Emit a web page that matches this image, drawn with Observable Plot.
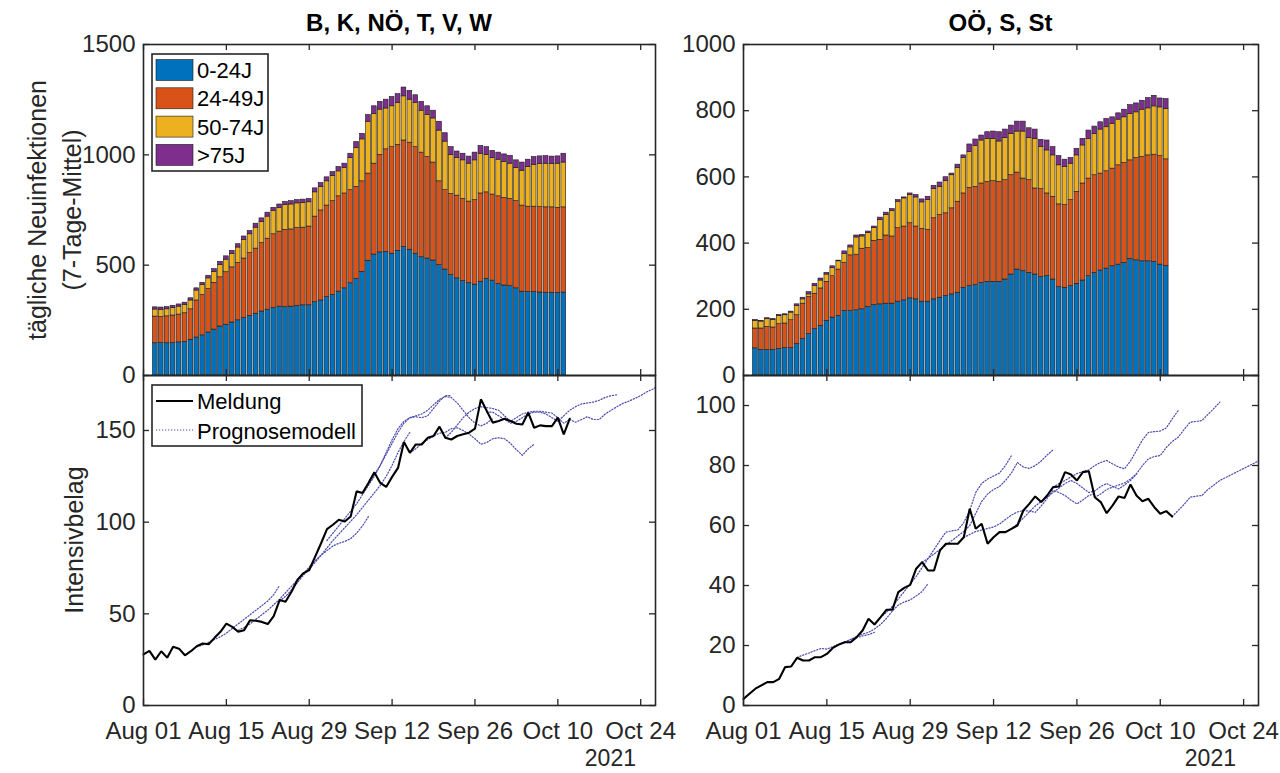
<!DOCTYPE html>
<html>
<head>
<meta charset="utf-8">
<script src="https://cdn.jsdelivr.net/npm/d3@7"></script>
<script src="https://cdn.jsdelivr.net/npm/@observablehq/plot@0.6"></script>
<style>
  body { margin: 0; background: #fff; }
  #fig { position: relative; width: 1280px; height: 773px; overflow: hidden; background: #fff; }
  #fig svg { position: absolute; left: 0; top: 0; }
</style>
</head>
<body>
<div id="fig"></div>
<script>
// ---------------- DATA ----------------
const regionTitles = ["B, K, NÖ, T, V, W", "OÖ, S, St"];
const ageGroups = ["0-24J", "24-49J", "50-74J", ">75J"];
const ageColors = ["#0072BD", "#D95319", "#EDB120", "#7E2F8E"];
const yLabelTop = ["tägliche Neuinfektionen", "(7-Tage-Mittel)"];
const yLabelBottom = "Intensivbelag";
const lineNames = ["Meldung", "Prognosemodell"];
const yearLabel = "2021";

const xTickDates = ["2021-08-01", "2021-08-15", "2021-08-29", "2021-09-12", "2021-09-26", "2021-10-10", "2021-10-24"];
const xTickLabels = ["Aug 01", "Aug 15", "Aug 29", "Sep 12", "Sep 26", "Oct 10", "Oct 24"];
const xStart = "2021-08-01";
const xEnd = "2021-10-26T12:00";
const barStart = "2021-08-03";   // first bar (one bar per day)
const lineStart = "2021-08-01";  // first Meldung point (one point per day)

// Upper edges of the stacked bands (cumulative level)
// Left region: B, K, NÖ, T, V, W
const L_top_0_24 = [146,147,146,147,150,152,162,172,182,195, 208,222,230,240,250,260,270,280,290,298, 306,312,310,312,315,318,318,332,340,355, 365,380,395,418,438,470,520,548,558,560, 552,565,582,570,552,536,530,521,500,480, 455,440,428,418,412,425,438,430,415,408, 405,395,380,378,378,376,375,375,374,376];
const L_top_24_49 = [267,265,268,272,276,282,300,340,365,392, 420,445,468,490,510,530,555,575,600,620, 640,652,660,662,668,670,675,720,748,770, 790,812,825,840,855,880,915,960,1000,1025, 1035,1045,1065,1055,1035,1010,990,965,880,840, 822,815,800,788,795,825,830,820,812,805, 800,790,770,765,765,763,762,762,760,762];
const L_top_50_74 = [299,298,300,305,312,320,340,385,410,440, 470,500,525,550,580,615,640,670,695,720, 745,760,772,775,780,782,785,830,855,880, 905,925,940,985,1030,1070,1150,1185,1205,1210, 1220,1235,1265,1250,1235,1200,1180,1165,1110,1060, 1000,985,975,960,975,1005,1000,985,978,968, 960,940,928,945,955,958,960,958,960,965];
const L_top_75 = [309,308,310,316,322,330,350,395,420,452, 482,515,540,565,595,630,655,688,712,738, 760,775,786,790,795,797,800,848,872,898, 922,945,960,1005,1058,1095,1180,1220,1240,1250, 1262,1275,1305,1290,1270,1240,1220,1200,1150,1098, 1035,1015,1005,992,1010,1040,1035,1018,1010,1002, 995,975,965,978,990,993,994,992,993,1005];

// Right region: OÖ, S, St
const R_top_0_24 = [82,77,77,77,80,83,83,95,110,125, 140,150,165,175,180,195,195,197,200,207, 213,215,217,217,223,227,233,230,223,223, 230,235,240,245,250,265,270,273,280,283, 283,283,290,305,320,315,310,305,297,300, 290,267,265,270,277,287,300,310,317,323, 330,335,340,352,348,345,345,343,335,331];
const R_top_24_49 = [142,142,147,145,155,157,167,182,217,237, 247,263,283,300,320,340,363,365,383,385, 407,410,423,420,445,450,460,450,443,440, 475,485,490,505,525,550,567,570,580,585, 587,585,590,605,613,595,590,565,563,550, 540,517,515,530,555,580,595,605,610,617, 625,635,642,650,657,660,665,667,663,653];
const R_top_50_74 = [165,163,170,168,180,182,190,210,230,245, 270,287,305,325,345,367,387,417,420,430, 445,470,485,497,525,535,545,538,523,530, 563,570,587,605,627,657,675,693,710,715, 715,707,717,730,737,737,717,715,690,680, 665,635,630,640,665,695,715,730,743,750, 760,773,780,790,795,803,807,813,810,805];
const R_top_75 = [168,165,173,171,183,185,193,215,235,252, 277,293,310,330,347,375,393,423,425,435, 450,477,492,503,530,538,550,545,532,540, 573,583,599,610,637,665,698,713,725,735, 737,735,743,755,767,767,747,743,712,710, 690,663,652,657,685,715,740,752,765,775, 780,792,803,817,822,830,838,845,837,835];

// Intensivbelag, Meldung (daily from Aug 01)
const L_meldung = [27.9,29.8,25,29.6,26.1,32,31,27.4,29.6,32.3, 33.8,33.4,36.9,40.2,44.7,42.9,40.2,41.1,46.5,46.2, 45.6,44.4,48.7,57.5,56.6,62,68.5,72.1,73.9,81.2, 88.5,96.2,98.6,101.3,100.4,103.1,116.8,115.9,121.4,127.2, 121.4,119.2,124.7,129.6,143.7,137.8,142.4,142.4,146,147, 152.1,146,145.1,147,147.9,148.8,151,167,160.6,154.3, 155.2,156.4,155.2,153.7,153.3,159.7,151.5,152.8,152.4,152.4, 157,147.9,156.4];
const R_meldung = [2.2,3.9,5.6,6.7,7.8,7.8,8.9,12.8,13,15.9, 15,15,16.1,16.1,17.2,19.2,20.3,21.1,21.1,22.8, 25,28.9,27,29.4,31.9,31.9,37.8,39.2,40.2,45.6, 47.8,45,45,51.7,53.9,53.9,53.9,56.1,65.6,58.9, 60.6,53.9,56.1,57.8,57.8,58.9,60,65,67.2,69.7, 67.8,70,72.8,73,77.8,77,75,77.8,78.1,69.4, 67.8,64.1,66.7,69.7,69.2,73.7,70,68.1,68.9,66.1, 63.9,64.8,63];

// Prognosemodell runs (start date, daily values)
const L_prog_starts = ["2021-08-10", "2021-08-17", "2021-08-24", "2021-09-01", "2021-09-08", "2021-09-15", "2021-09-21", "2021-09-28", "2021-10-12"];
const L_prog_values = [
  [32,33,34.5,36,37.5,39.5,42,44.5,47,49.5,52,54.5,57,60.5,65.5],
  [41,42.5,44.5,47,49.5,52,55,58,61.5,65,68.5,72,75.5,79,82,84.5,87,88.5,89.5,91,94,98,103],
  [57,59.5,63,67,71,74.5,78,82,86,90,93.5,97,100.5,104,108,112,116,120,125,131,138,144,149],
  [90,94,98,102,106,110,115,120,125,131,138,145,151,155,157,157.5,157,158,162,166,169,169],
  [121,126,131,137,143,149,154,157,158,159,161,164,167,168.5,168,165,161,157,154,152.5,154,156.5],
  [138,140,143,145,147,148.5,149,151,151.5,150,148,145.5,142.5,143.5,145.5,146,145.5,143,139.5,136.5,140,142.5],
  [146,149,153,157,160,162,163,162.5,162,161,158,155,157,159,160,160.5,160.5,160,159.5,157,154,156],
  [160,160,158,156,154,155,157,159,160,160,159,157,155,158,161,163,164.5,165,165.5,166.5,168,169,169.5],
  [156,154.5,156,157.5,156,156,159,161,163,164.8,166,167.5,169,171,172.5,174.5,176.5]
];
const R_prog_starts = ["2021-08-10", "2021-08-17", "2021-08-24", "2021-08-31", "2021-09-07", "2021-09-14", "2021-09-22", "2021-09-29", "2021-10-12"];
const R_prog_values = [
  [16,16.8,17.5,18.3,19,18.8,19.6,20.5,21.2,22,22.6,23.2,23.6,24.4],
  [20.3,21,22,23,23.8,24.4,25.5,27,29,31.5,33.5,34.5,35.2,36.5,38,40.6],
  [29.4,31,33,35.5,38,40.5,43,46,49,52,55,57.8,58.2,58.5,61,65,71,74,75.5,76.5,77.5,80,83.3],
  [47.8,49,50.5,52,53.5,55,56.5,58,60,64,68,70.5,72,73,75,77.5,81,79.5,79,80,81.5,83.5,85.2],
  [56,57,58,58.5,59,59.5,60.5,62,63.5,64.5,65,64.8,64.4,66.5,69,71.7,71,70,68.5,67.2,68.5,70,70.6],
  [57.8,59,60.5,62.5,64.5,66.5,68,69.5,71,72.5,74,75,74,72.5,71,71.5,73,74,73,72.2,73.5,75,77.2],
  [72.8,74,75,76.2,77.3,78,78.5,80,81,81.7,80.5,79.5,78.9,81.5,85,88.5,91,91.3,91.5,92.5,95.5,98.3],
  [69.4,70.5,72,72.8,73.5,74.2,75.5,77.2,80,82.2,83,83.3,86,88,89.4,92,94.4,94.7,95,97,99,101.1],
  [63,65,67,69.4,69.8,70,72,73.5,75,76,77,78,79,80,81,82.2,83.5]
];

const yTicksTopL = [0, 500, 1000, 1500];
const yTicksTopR = [0, 200, 400, 600, 800, 1000];
const yTicksBotL = [0, 50, 100, 150];
const yTicksBotR = [0, 20, 40, 60, 80, 100];

// ---------------- DRAWING ----------------
const FONT = '"Liberation Sans", Arial, Helvetica, sans-serif';
const AXIS = "#262626";
const PROG = "#4a4aae";
const DAY = 864e5;
const xTicks = xTickDates.map(s => new Date(s + "T00:00Z"));
const xDomain = [new Date(xStart + "T00:00Z"), new Date(xEnd + "Z")];
const dayAfter = (start, i) => new Date(Date.parse(start + "T00:00Z") + i * DAY);
const fmtX = d => xTickLabels[xTicks.findIndex(t => +t === +d)];

function panel(g, dataMarks) {
  const W = g.right - g.left, H = g.bottom - g.top;
  const tickStyle = {stroke: AXIS, strokeWidth: 1.3};
  const marks = [
    ...dataMarks,
    Plot.frame({stroke: AXIS, strokeWidth: 1.6}),
    Plot.tickX(xTicks, {x: d => d, insetTop: H - 6, ...tickStyle}),
    Plot.tickX(xTicks, {x: d => d, insetBottom: H - 6, ...tickStyle}),
    Plot.tickY(g.yTicks, {y: d => d, insetRight: W - 6, ...tickStyle}),
    Plot.tickY(g.yTicks, {y: d => d, insetLeft: W - 6, ...tickStyle}),
    Plot.axisY(g.yTicks, {tickSize: 0, tickPadding: 8, label: null, fontSize: 24, tickFormat: d => String(d)})
  ];
  if (g.xAxis) marks.push(Plot.axisX(xTicks, {tickSize: 0, tickPadding: 16, label: null, fontSize: 24, tickFormat: fmtX}));
  return Plot.plot({
    width: 1280, height: 773,
    marginLeft: g.left, marginRight: 1280 - g.right, marginTop: g.top, marginBottom: 773 - g.bottom,
    x: {type: "utc", domain: xDomain, axis: g.xAxis ? undefined : null},
    y: {domain: g.yDomain},
    style: {background: "transparent", overflow: "visible", fontFamily: FONT, fontSize: "24px", color: AXIS},
    marks
  });
}

function barMarks(levels) {
  const idx = d3.range(levels[0].length);
  return levels.map((upper, k) => Plot.rect(idx, {
    x1: i => dayAfter(barStart, i - 0.4),
    x2: i => dayAfter(barStart, i + 0.4),
    y1: i => (k === 0 ? 0 : levels[k - 1][i]),
    y2: i => upper[i],
    fill: ageColors[k],
    stroke: "#1a1a1a",
    strokeWidth: 0.6
  }));
}

function lineMarks(meldung, starts, runs) {
  const marks = runs.map((vals, j) => Plot.line(vals, {
    x: (d, i) => dayAfter(starts[j], i),
    y: d => d,
    stroke: PROG,
    strokeWidth: 1.2,
    strokeDasharray: "1.2,1.8",
    clip: true
  }));
  marks.push(Plot.line(meldung, {
    x: (d, i) => dayAfter(lineStart, i),
    y: d => d,
    stroke: "#000",
    strokeWidth: 2.1,
    strokeLinejoin: "miter"
  }));
  return marks;
}

const fig = document.getElementById("fig");
const geo = {
  TL: {left: 143, right: 655, top: 44, bottom: 375, yDomain: [0, 1500], yTicks: yTicksTopL, xAxis: false},
  TR: {left: 743, right: 1258, top: 44, bottom: 375, yDomain: [0, 1000], yTicks: yTicksTopR, xAxis: false},
  BL: {left: 143, right: 655, top: 375, bottom: 705, yDomain: [0, 180], yTicks: yTicksBotL, xAxis: true},
  BR: {left: 743, right: 1258, top: 375, bottom: 705, yDomain: [0, 110], yTicks: yTicksBotR, xAxis: true}
};
fig.append(panel(geo.TL, barMarks([L_top_0_24, L_top_24_49, L_top_50_74, L_top_75])));
fig.append(panel(geo.TR, barMarks([R_top_0_24, R_top_24_49, R_top_50_74, R_top_75])));
fig.append(panel(geo.BL, lineMarks(L_meldung, L_prog_starts, L_prog_values)));
fig.append(panel(geo.BR, lineMarks(R_meldung, R_prog_starts, R_prog_values)));

// ------------- titles, axis labels, legends (overlay) -------------
const ov = d3.select(fig).append("svg").attr("width", 1280).attr("height", 773)
  .style("font-family", FONT);

ov.append("text").attr("x", 399).attr("y", 31).attr("text-anchor", "middle")
  .attr("font-size", 24).attr("font-weight", "bold").text(regionTitles[0]);
ov.append("text").attr("x", 1000.5).attr("y", 31).attr("text-anchor", "middle")
  .attr("font-size", 24).attr("font-weight", "bold").text(regionTitles[1]);

ov.append("text").attr("transform", "translate(46,210) rotate(-90)").attr("text-anchor", "middle")
  .attr("font-size", 25).attr("fill", AXIS).text(yLabelTop[0]);
ov.append("text").attr("transform", "translate(81,210) rotate(-90)").attr("text-anchor", "middle")
  .attr("font-size", 25).attr("fill", AXIS).text(yLabelTop[1]);
ov.append("text").attr("transform", "translate(83,540) rotate(-90)").attr("text-anchor", "middle")
  .attr("font-size", 25).attr("fill", AXIS).text(yLabelBottom);

ov.append("text").attr("x", 636).attr("y", 766).attr("text-anchor", "end")
  .attr("font-size", 23).attr("fill", AXIS).text(yearLabel);
ov.append("text").attr("x", 1236).attr("y", 766).attr("text-anchor", "end")
  .attr("font-size", 23).attr("fill", AXIS).text(yearLabel);

// bar legend
ov.append("rect").attr("x", 152).attr("y", 54).attr("width", 116).attr("height", 117)
  .attr("fill", "#fff").attr("stroke", AXIS).attr("stroke-width", 1.6);
ageGroups.forEach((g, k) => {
  const y = 59.5 + k * 28.3;
  ov.append("rect").attr("x", 156).attr("y", y).attr("width", 37).attr("height", 21)
    .attr("fill", ageColors[k]).attr("stroke", "#1a1a1a").attr("stroke-width", 0.6);
  ov.append("text").attr("x", 197).attr("y", y + 18.5).attr("font-size", 22).attr("fill", "#000").text(g);
});

// line legend
ov.append("rect").attr("x", 152).attr("y", 385).attr("width", 210).attr("height", 61)
  .attr("fill", "#fff").attr("stroke", AXIS).attr("stroke-width", 1.6);
ov.append("line").attr("x1", 156).attr("x2", 193).attr("y1", 401).attr("y2", 401)
  .attr("stroke", "#000").attr("stroke-width", 2);
ov.append("line").attr("x1", 156).attr("x2", 193).attr("y1", 430).attr("y2", 430)
  .attr("stroke", PROG).attr("stroke-width", 1.2).attr("stroke-dasharray", "1.2,1.8");
ov.append("text").attr("x", 197).attr("y", 409).attr("font-size", 22).attr("fill", "#000").text(lineNames[0]);
ov.append("text").attr("x", 197).attr("y", 438.5).attr("font-size", 22).attr("fill", "#000").text(lineNames[1]);
</script>
</body>
</html>
